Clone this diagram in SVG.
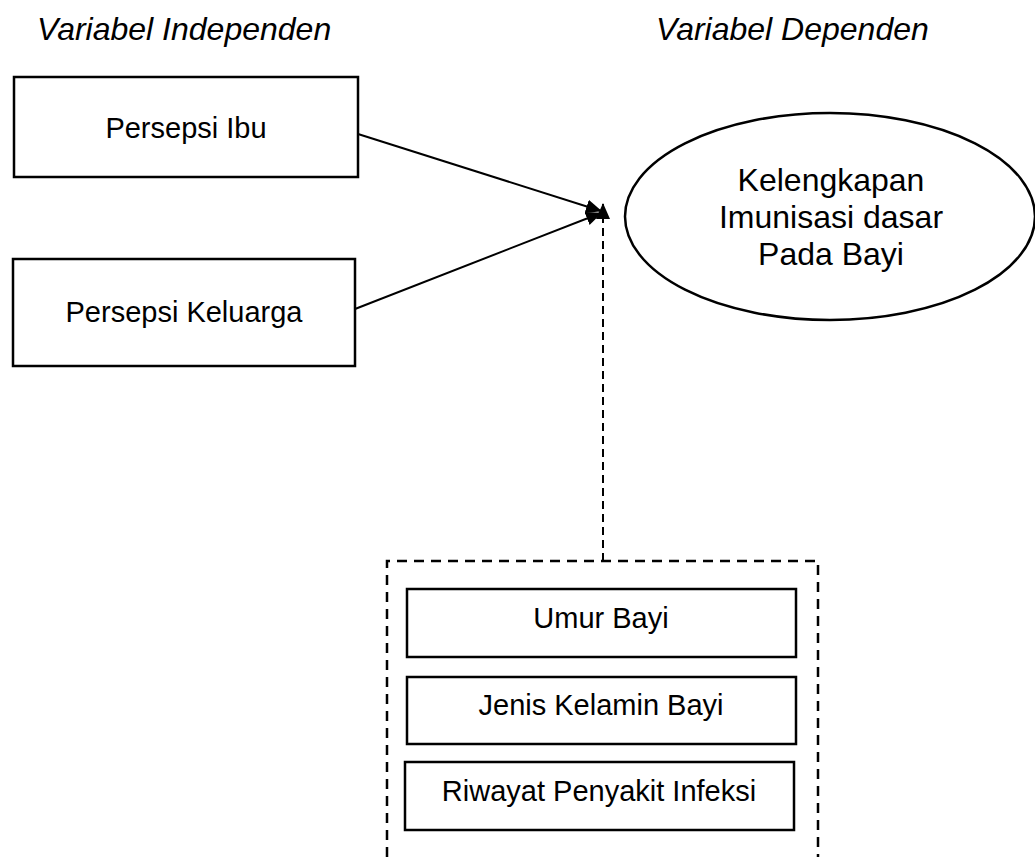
<svg xmlns="http://www.w3.org/2000/svg" width="1035" height="857" viewBox="0 0 1035 857">
<style>
.box{fill:#fff;stroke:#000;stroke-width:2.5}
.t{font-family:"Liberation Sans",Arial,sans-serif;font-size:29px;fill:#000;text-anchor:middle}
.te{font-family:"Liberation Sans",Arial,sans-serif;font-size:32px;fill:#000;text-anchor:middle}
.h{font-family:"Liberation Sans",Arial,sans-serif;font-size:32px;font-style:italic;fill:#000}
.ln{stroke:#000;stroke-width:2;fill:none}
.dash{stroke:#000;stroke-width:2.5;fill:none;stroke-dasharray:10 7}
.dash2{stroke:#000;stroke-width:2;fill:none;stroke-dasharray:8 5}
</style>
<defs>
<marker id="ah" markerWidth="16" markerHeight="14" refX="15" refY="7" orient="auto" markerUnits="userSpaceOnUse">
<path d="M0,0 L16,7 L0,14 Z" fill="#000"/>
</marker>
</defs>
<rect width="1035" height="857" fill="#fff"/>
<text class="h" x="37" y="40">Variabel Independen</text>
<text class="h" x="656" y="40">Variabel Dependen</text>
<g id="connectors">
<line class="ln" x1="358" y1="134" x2="601" y2="211" marker-end="url(#ah)"/>
<line class="ln" x1="355" y1="309" x2="601" y2="213" marker-end="url(#ah)"/>
<line class="dash2" x1="603" y1="561" x2="603" y2="204" marker-end="url(#ah)"/>
</g>
<g id="persepsi-ibu">
<rect class="box" x="14" y="77" width="344" height="100"/>
<text class="t" x="186" y="138">Persepsi Ibu</text>
</g>
<g id="persepsi-keluarga">
<rect class="box" x="13" y="259" width="342" height="107"/>
<text class="t" x="184" y="322">Persepsi Keluarga</text>
</g>
<g id="kelengkapan">
<ellipse class="box" cx="830" cy="216.5" rx="205" ry="103.5"/>
<text class="te" x="831" y="191">Kelengkapan</text>
<text class="te" x="831" y="228">Imunisasi dasar</text>
<text class="te" x="831" y="265">Pada Bayi</text>
</g>
<g id="confounding">
<path class="dash" d="M387,857 V561 H818 V857"/>
<g id="umur-bayi">
<rect class="box" x="407" y="589" width="389" height="68"/>
<text class="t" x="601" y="628">Umur Bayi</text>
</g>
<g id="jenis-kelamin">
<rect class="box" x="407" y="677" width="389" height="67"/>
<text class="t" x="601" y="715">Jenis Kelamin Bayi</text>
</g>
<g id="riwayat">
<rect class="box" x="405" y="762" width="389" height="68"/>
<text class="t" x="599" y="801">Riwayat Penyakit Infeksi</text>
</g>
</g>
</svg>
